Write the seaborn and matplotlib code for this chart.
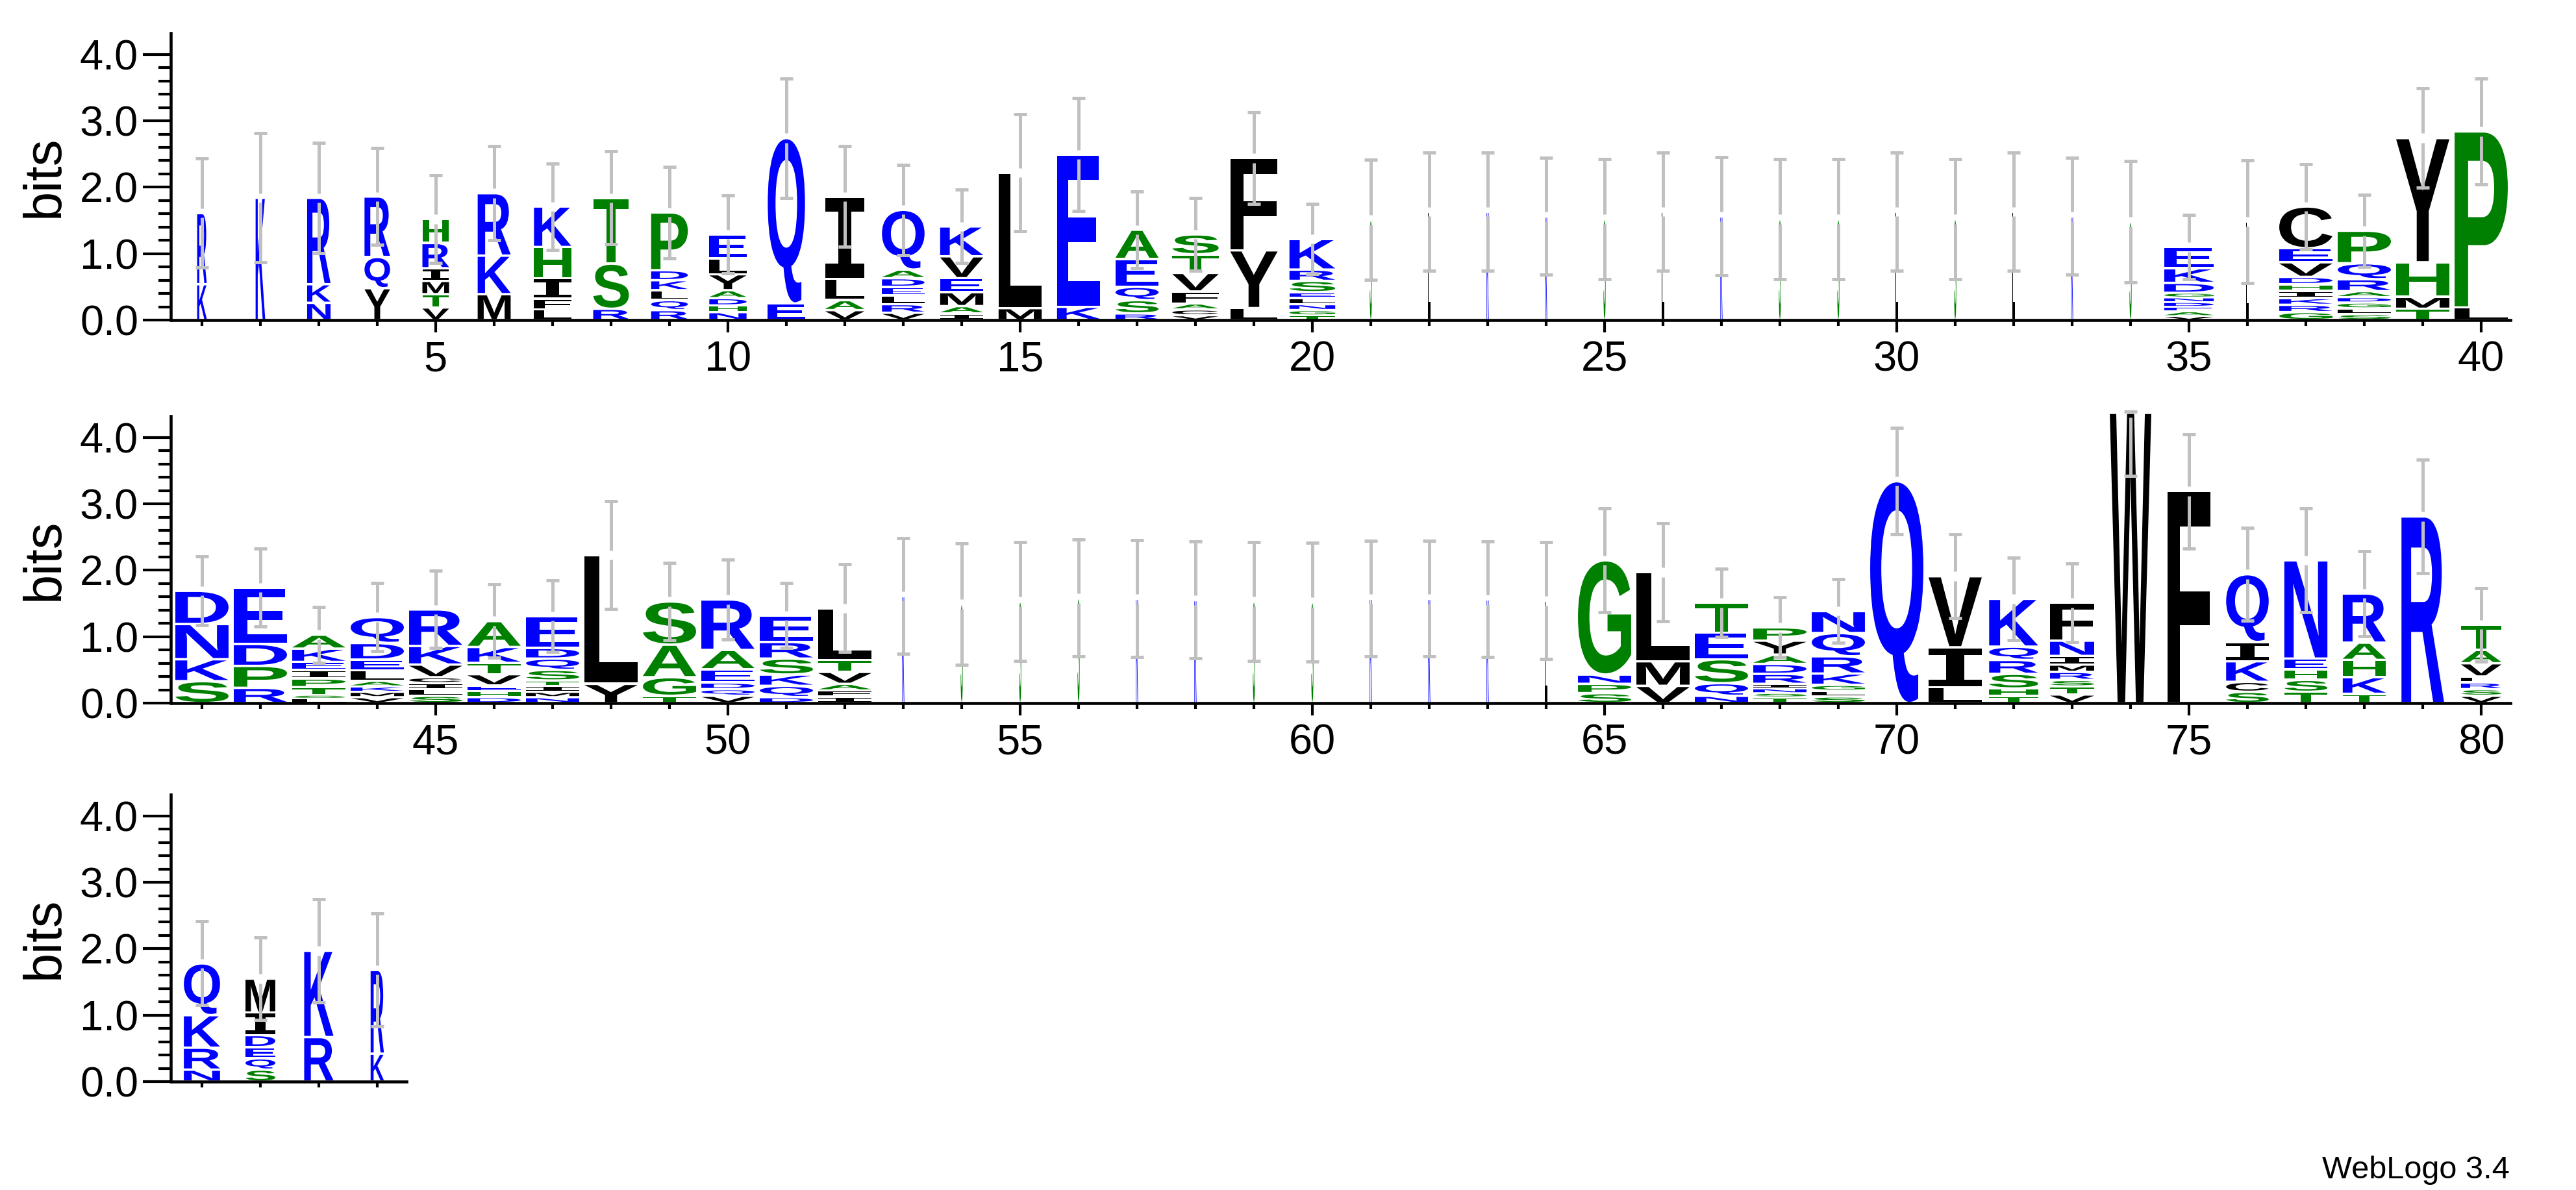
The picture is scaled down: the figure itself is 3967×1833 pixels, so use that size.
import matplotlib
matplotlib.use("Agg")
import matplotlib.pyplot as plt
import seaborn as sns
from matplotlib.textpath import TextPath
from matplotlib.patches import PathPatch
from matplotlib.font_manager import FontProperties
from matplotlib.transforms import Affine2D

# Sequence logo data: letters per column (bottom -> top), their heights in bits,
# relative stack width (occupancy) and error bar half-length.
positions = list(range(1, 85))

letters = [
    "KR", "K", "NKR", "YQR", "VTMIRH", "MKR", "LFIHK", "RST", "RQLKDP", "NHDAYLE",
    "EQ", "VALI", "VRLEDAQ", "IAMEVK", "ML", "KE", "RSQEA", "VCAFVTS", "LYF", "TGNLESRK",
    "S", "L", "K", "K", "S", "L", "K", "S", "S", "L",
    "S", "L", "K", "S", "VAEDNGDKE", "L", "GRKIHDVEC", "SLGDARQP", "TMHY", "LP",
    "SKND", "RPDE", "LSTPIEKA", "VMKALEDQ", "SLICVKR", "DHEVTKA", "NMITSQDE", "YL", "TGAS", "VQDEAR",
    "DQKSRE", "IFAVTL", "K", "S", "S", "S", "K", "K", "S", "S",
    "K", "K", "K", "L", "SPNG", "VML", "NQSET", "TSNIRDAYP", "SLGKRQN", "Q",
    "LIV", "THSRQK", "VTSRMINF", "W", "F", "SCKIQ", "TSHEN", "TKHAR", "R", "VSRLVAT",
    "NRKQ", "SQEDIM", "RK", "KR",
]

heights = [
    [0.54, 1.07], [1.84], [0.26, 0.28, 1.30], [0.48, 0.47, 0.91],
    [0.19, 0.20, 0.20, 0.19, 0.38, 0.36], [0.39, 0.58, 0.94],
    [0.16, 0.16, 0.31, 0.47, 0.61], [0.17, 0.68, 0.99],
    [0.15, 0.15, 0.15, 0.15, 0.15, 0.87], [0.12, 0.10, 0.11, 0.12, 0.24, 0.24, 0.36],
    [0.25, 2.49], [0.15, 0.15, 0.32, 1.24], [0.11, 0.13, 0.13, 0.13, 0.13, 0.13, 0.90],
    [0.10, 0.11, 0.21, 0.21, 0.33, 0.45], [0.18, 2.04], [0.20, 2.29],
    [0.10, 0.20, 0.20, 0.42, 0.44], [0.07, 0.09, 0.09, 0.18, 0.28, 0.28, 0.30],
    [0.18, 0.87, 1.39], [0.07, 0.08, 0.09, 0.09, 0.09, 0.17, 0.17, 0.46],
    [1.51], [1.63], [1.63], [1.56], [1.52], [1.63], [1.56], [1.52], [1.52], [1.63],
    [1.52], [1.63], [1.56], [1.48],
    [0.06, 0.07, 0.07, 0.07, 0.07, 0.07, 0.15, 0.22, 0.32], [1.48],
    [0.12, 0.11, 0.10, 0.11, 0.10, 0.11, 0.22, 0.21, 0.63],
    [0.09, 0.085, 0.09, 0.08, 0.09, 0.18, 0.24, 0.49],
    [0.17, 0.18, 0.52, 1.87], [0.19, 2.65],
    [0.33, 0.33, 0.53, 0.50], [0.23, 0.33, 0.33, 0.85],
    [0.07, 0.05, 0.12, 0.13, 0.13, 0.12, 0.20, 0.21],
    [0.09, 0.08, 0.08, 0.085, 0.16, 0.16, 0.25, 0.39],
    [0.11, 0.10, 0.09, 0.09, 0.19, 0.28, 0.55],
    [0.09, 0.09, 0.085, 0.17, 0.17, 0.24, 0.39],
    [0.09, 0.08, 0.09, 0.08, 0.16, 0.17, 0.16, 0.48],
    [0.29, 1.94], [0.11, 0.28, 0.49, 0.65], [0.11, 0.10, 0.10, 0.20, 0.29, 0.76],
    [0.09, 0.17, 0.17, 0.24, 0.25, 0.40], [0.10, 0.09, 0.10, 0.18, 0.18, 0.78],
    [1.61], [1.49], [1.53], [1.58], [1.57], [1.55], [1.53], [1.52],
    [1.57], [1.57], [1.56], [1.54],
    [0.15, 0.14, 0.14, 1.72], [0.26, 0.37, 1.34], [0.11, 0.19, 0.36, 0.40, 0.45],
    [0.09, 0.06, 0.07, 0.07, 0.15, 0.15, 0.14, 0.21, 0.20],
    [0.10, 0.085, 0.09, 0.17, 0.26, 0.35, 0.33], [3.34],
    [0.24, 0.60, 1.07], [0.11, 0.11, 0.22, 0.21, 0.20, 0.72],
    [0.13, 0.12, 0.10, 0.12, 0.11, 0.13, 0.23, 0.57], [4.37], [3.19],
    [0.17, 0.15, 0.31, 0.29, 1.02], [0.17, 0.18, 0.16, 0.16, 1.48],
    [0.14, 0.25, 0.26, 0.26, 0.74], [2.81], [0.11, 0.10, 0.10, 0.09, 0.20, 0.20, 0.38],
    [0.18, 0.33, 0.49, 0.78], [0.18, 0.17, 0.17, 0.18, 0.34, 0.51], [0.67, 1.30], [0.42, 1.26],
]

widths = (
    [0.18, 0.18, 0.44, 0.48, 0.50, 0.62, 0.70, 0.67, 0.69, 0.70,
     0.70, 0.74, 0.80, 0.81, 0.81, 0.81, 0.81, 0.87, 0.89, 0.86]
    + [0.04] * 14 + [0.93, 0.04, 1.0, 1.0, 1.0, 1.0]
    + [1.0] * 12 + [0.04] * 12 + [1.0] * 7
    + [0.92, 0.83, 0.78, 0.81, 0.80, 0.81, 0.81, 0.80, 0.76]
    + [0.68, 0.56, 0.55, 0.25]
)

errors = [
    0.82, 0.97, 0.83, 0.73, 0.66, 0.71, 0.65, 0.70, 0.69, 0.59,
    0.90, 0.76, 0.68, 0.55, 0.88, 0.85, 0.58, 0.55, 0.69, 0.53,
    0.90, 0.89, 0.89, 0.88, 0.90, 0.89, 0.89, 0.90, 0.90, 0.89,
    0.90, 0.89, 0.88, 0.91, 0.48, 0.92, 0.64, 0.54, 0.75, 0.80,
    0.52, 0.59, 0.42, 0.51, 0.58, 0.55, 0.54, 0.81, 0.58, 0.60,
    0.49, 0.66, 0.87, 0.91, 0.89, 0.88, 0.88, 0.88, 0.89, 0.89,
    0.87, 0.87, 0.87, 0.88, 0.78, 0.74, 0.51, 0.45, 0.48, 0.80,
    0.63, 0.62, 0.59, 0.95, 0.86, 0.70, 0.78, 0.64, 0.86, 0.55,
    0.63, 0.62, 0.78, 0.85,
]

rows = [(1, 40), (41, 80), (81, 84)]
y_ticks = [0, 1, 2, 3, 4]
y_tick_labels = ["0.0", "1.0", "2.0", "3.0", "4.0"]

# hydrophobicity colour scheme
colors = {}
for aa in "RKDENQ":
    colors[aa] = "#0000ff"
for aa in "SGHTAP":
    colors[aa] = "#008000"
for aa in "YVMCLFIW":
    colors[aa] = "#000000"

YMAX = 4.32
FULL_W = 0.91
GREY = "#c0c0c0"

sns.set_style("ticks")
plt.rcParams["font.family"] = ["Liberation Sans", "DejaVu Sans"]
plt.rcParams.update({
    "text.color": "black",
    "axes.labelcolor": "black",
    "axes.edgecolor": "black",
    "xtick.color": "black",
    "ytick.color": "black",
})

fp_letter = FontProperties(family="Liberation Sans", weight="bold")
fp_i = FontProperties(family="DejaVu Sans Mono", weight="bold")
glyphs = {}


def draw_letter(ax, ch, xc, y0, w, h):
    if ch not in glyphs:
        p = TextPath((0, 0), ch, size=1, prop=fp_i if ch == "I" else fp_letter)
        glyphs[ch] = (p, p.get_extents())
    path, bb = glyphs[ch]
    pad = min(0.018, h * 0.2)
    hh = h - 2 * pad
    tr = (Affine2D().translate(-bb.x0, -bb.y0)
          .scale(w / bb.width, hh / bb.height)
          .translate(xc - w / 2, y0 + pad))
    ax.add_patch(PathPatch(tr.transform_path(path), facecolor=colors[ch],
                           edgecolor="none", lw=0, clip_on=False))


def draw_error(ax, x, top, e):
    lo, hi = top - e, min(top + e, 4.39)
    gap = 0.07
    kw = dict(color=GREY, lw=1.2, clip_on=False, zorder=5)
    ax.vlines(x, lo, top - gap, **kw)
    if top + gap < hi:
        ax.vlines(x, top + gap, hi, **kw)
    ax.hlines([lo, hi], x - 0.115, x + 0.115, **kw)


fig = plt.figure(figsize=(3967 / 300, 1833 / 300), dpi=300)
px_w, px_h = 3967, 1833
row_bottoms = [493, 1083, 1666]

for (start, end), ybot in zip(rows, row_bottoms):
    n = end - start + 1
    ax = fig.add_axes([266 / px_w, 1 - ybot / px_h, n * 90 / px_w, 442 / px_h])
    for pos in range(start, end + 1):
        i = pos - 1
        w = widths[i] * FULL_W
        y = 0.0
        for ch, h in zip(letters[i], heights[i]):
            draw_letter(ax, ch, pos, y, w, h)
            y += h
        draw_error(ax, pos, y, errors[i])

    ax.set_xlim(start - 0.5, end + 0.5)
    ax.set_ylim(0, YMAX)
    sns.despine(ax=ax)
    ax.spines["left"].set_position(("outward", 0.7))
    for s in ("left", "bottom"):
        ax.spines[s].set_linewidth(1.1)
        ax.spines[s].set_color("black")

    majors = [p for p in positions if start <= p <= end and p % 5 == 0]
    ax.set_xticks(majors)
    ax.set_xticklabels([str(p) for p in majors])
    ax.set_xticks([p for p in range(start, end + 1) if p % 5 != 0], minor=True)
    ax.set_yticks(y_ticks)
    ax.set_yticklabels(y_tick_labels)
    ax.set_yticks([k * 0.2 for k in range(20) if k % 5 != 0], minor=True)
    ax.tick_params(axis="x", which="major", length=4.6, width=1.0, labelsize=15.6, pad=3)
    ax.tick_params(axis="x", which="minor", length=2.2, width=1.0)
    ax.tick_params(axis="y", which="major", length=10.3, width=1.0, labelsize=15.6, pad=1.7)
    ax.tick_params(axis="y", which="minor", length=4.6, width=1.0)

    ax.set_ylabel("bits", fontsize=19.5, va="center", color="black")
    ax.yaxis.set_label_coords((69 - 266) / (n * 90), 0.5)

fig.text(3865 / px_w, (px_h - 1815) / px_h, "WebLogo 3.4", fontsize=11.7,
         ha="right", va="baseline", color="black")

fig.savefig("out.png", dpi=300)
